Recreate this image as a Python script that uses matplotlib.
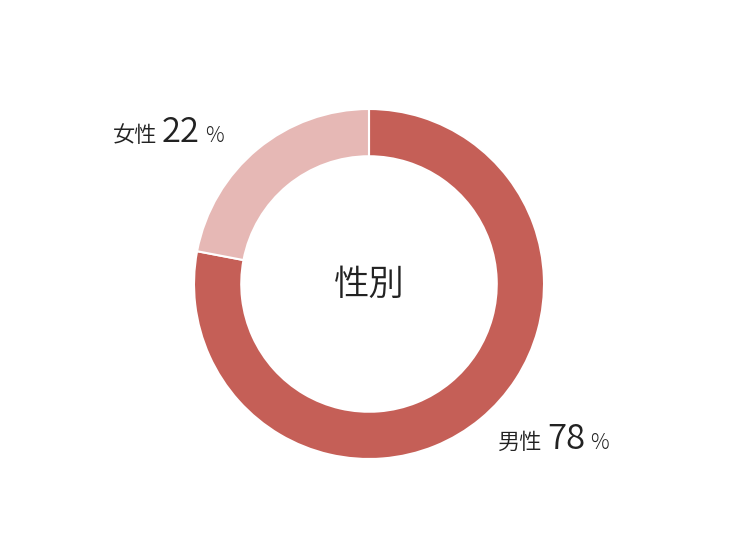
import matplotlib.pyplot as plt

plt.rcParams['font.family'] = ['Noto Sans CJK JP', 'DejaVu Sans']

labels = ['男性', '女性']
values = [78, 22]
colors = ['#C55F57', '#E6B8B5']
center_title = '性別'

W, H = 750, 550
fig = plt.figure(figsize=(W / 100, H / 100), dpi=100)

# donut: centre (369, 284) px, outer radius 175 px
cx, cy, r = 369, 284, 175
ax = fig.add_axes([(cx - r) / W, (H - cy - r) / H, 2 * r / W, 2 * r / H])
ax.pie(values, colors=colors, startangle=90, counterclock=False, radius=1,
       wedgeprops=dict(width=0.27, edgecolor='white', linewidth=1.5))
ax.set_xlim(-1, 1)
ax.set_ylim(-1, 1)
ax.set_aspect('equal')
ax.axis('off')

ax.text(0, 0, center_title, ha='center', va='center', fontsize=25.5,
        color='#222222', fontweight=350)


def px(x, y):
    return x / W, 1 - y / H


def label(x, y, name, pct):
    fig.text(*px(x, y), name, fontsize=16, color='#222222', va='baseline',
             fontweight=350)
    fig.text(*px(x + 49, y), str(pct), fontsize=25, color='#222222',
             va='baseline', fontweight=350)
    fig.text(*px(x + 92, y), '%', fontsize=15, color='#222222', va='baseline',
             fontweight='light')


label(113, 142, labels[1], values[1])
label(498, 449, labels[0], values[0])

fig.savefig('out.png', dpi=100)
